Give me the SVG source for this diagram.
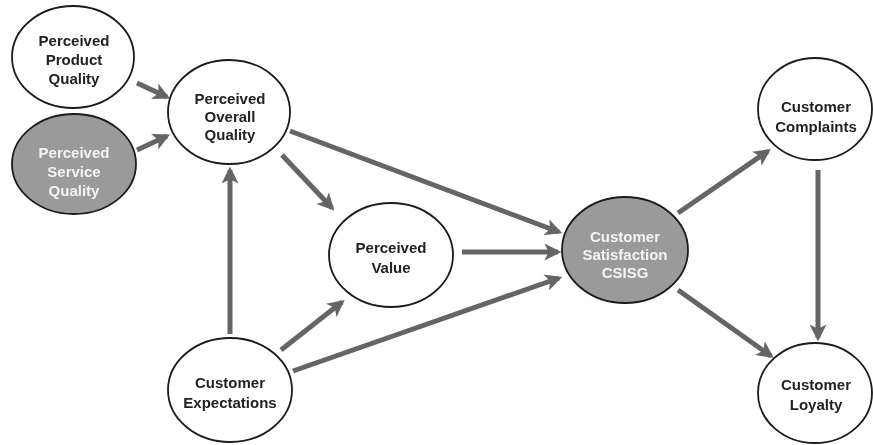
<svg xmlns="http://www.w3.org/2000/svg" width="873" height="445" viewBox="0 0 873 445">
  <defs>
    <marker id="arrow" viewBox="0 0 10 10" refX="8" refY="5" markerWidth="3.4" markerHeight="3.4" orient="auto" markerUnits="strokeWidth">
      <path d="M0,0 L10,5 L0,10 L2.5,5 Z" fill="#656565"/>
    </marker>
    <filter id="soft" x="-10%" y="-10%" width="120%" height="120%">
      <feGaussianBlur stdDeviation="0.6"/>
    </filter>
  </defs>
  <style>
    .node { stroke: #1a1a1a; stroke-width: 1.8; }
    .light { fill: #ffffff; }
    .dark { fill: #9a9a9a; }
    .edge { stroke: #656565; stroke-width: 5; fill: none; marker-end: url(#arrow); }
    text { font-family: "Liberation Sans", Arial, sans-serif; font-weight: bold; font-size: 15px; text-anchor: middle; }
    .tl { fill: #222222; }
    .tw { fill: #f4f4f4; }
  </style>
  <rect width="873" height="445" fill="#ffffff"/>

  <g id="connectors" filter="url(#soft)">
    <line class="edge" x1="137" y1="83" x2="167" y2="97"/>
    <line class="edge" x1="137" y1="150" x2="167" y2="136"/>
    <line class="edge" x1="282" y1="155" x2="332" y2="208"/>
    <line class="edge" x1="290" y1="131" x2="559" y2="232"/>
    <line class="edge" x1="462" y1="252" x2="558" y2="252"/>
    <line class="edge" x1="230" y1="334" x2="230" y2="170"/>
    <line class="edge" x1="281" y1="350" x2="342" y2="302"/>
    <line class="edge" x1="293" y1="371" x2="559" y2="278"/>
    <line class="edge" x1="678" y1="213" x2="768" y2="151"/>
    <line class="edge" x1="678" y1="290" x2="771" y2="356"/>
    <line class="edge" x1="818" y1="170" x2="818" y2="338"/>
  </g>

  <g id="perceived-product-quality" filter="url(#soft)">
    <ellipse class="node light" cx="73" cy="57" rx="61" ry="51"/>
    <text class="tl" x="74" y="46">Perceived</text>
    <text class="tl" x="74" y="65">Product</text>
    <text class="tl" x="74" y="84">Quality</text>
  </g>

  <g id="perceived-service-quality" filter="url(#soft)">
    <ellipse class="node dark" cx="74" cy="164" rx="62" ry="50"/>
    <text class="tw" x="74" y="158">Perceived</text>
    <text class="tw" x="74" y="177">Service</text>
    <text class="tw" x="74" y="196">Quality</text>
  </g>

  <g id="perceived-overall-quality" filter="url(#soft)">
    <ellipse class="node light" cx="229" cy="112" rx="61" ry="52"/>
    <text class="tl" x="230" y="104">Perceived</text>
    <text class="tl" x="230" y="122">Overall</text>
    <text class="tl" x="230" y="140">Quality</text>
  </g>

  <g id="perceived-value" filter="url(#soft)">
    <ellipse class="node light" cx="391" cy="255" rx="62" ry="52"/>
    <text class="tl" x="391" y="253">Perceived</text>
    <text class="tl" x="391" y="273">Value</text>
  </g>

  <g id="customer-satisfaction" filter="url(#soft)">
    <ellipse class="node dark" cx="625" cy="250" rx="63" ry="53"/>
    <text class="tw" x="625" y="242">Customer</text>
    <text class="tw" x="625" y="260">Satisfaction</text>
    <text class="tw" x="625" y="278">CSISG</text>
  </g>

  <g id="customer-expectations" filter="url(#soft)">
    <ellipse class="node light" cx="230" cy="390" rx="62" ry="52"/>
    <text class="tl" x="230" y="388">Customer</text>
    <text class="tl" x="230" y="408">Expectations</text>
  </g>

  <g id="customer-complaints" filter="url(#soft)">
    <ellipse class="node light" cx="815" cy="109" rx="57" ry="51"/>
    <text class="tl" x="816" y="112">Customer</text>
    <text class="tl" x="816" y="132">Complaints</text>
  </g>

  <g id="customer-loyalty" filter="url(#soft)">
    <ellipse class="node light" cx="815" cy="393" rx="57" ry="50"/>
    <text class="tl" x="816" y="390">Customer</text>
    <text class="tl" x="816" y="410">Loyalty</text>
  </g>
</svg>
